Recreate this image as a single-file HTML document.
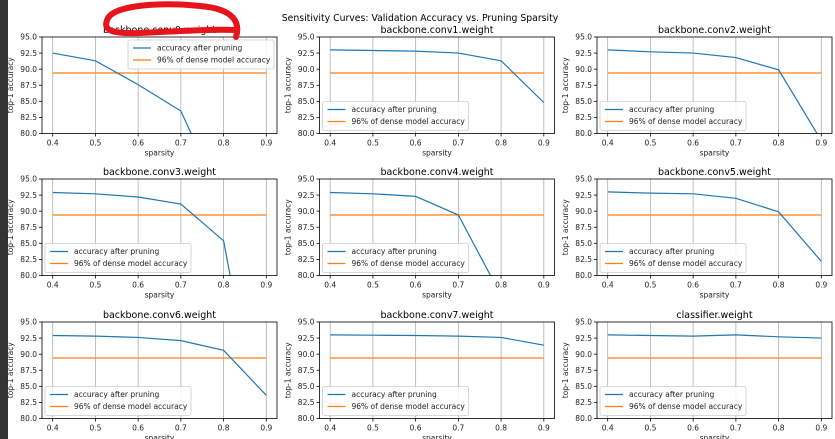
<!DOCTYPE html>
<html><head><meta charset="utf-8"><style>
html,body{margin:0;padding:0;background:#fff;width:835px;height:439px;overflow:hidden}
svg{display:block;font-family:"DejaVu Sans","Liberation Sans",sans-serif}
</style></head><body>
<svg id="chart" width="835" height="439" xmlns="http://www.w3.org/2000/svg">
<rect x="0" y="0" width="8" height="439" fill="#333"/>
<text x="420" y="21" font-size="9.3" text-anchor="middle" fill="#000">Sensitivity Curves: Validation Accuracy vs. Pruning Sparsity</text>
</svg>
<script>
const names = ["backbone.conv0.weight","backbone.conv1.weight","backbone.conv2.weight","backbone.conv3.weight","backbone.conv4.weight","backbone.conv5.weight","backbone.conv6.weight","backbone.conv7.weight","classifier.weight"];
const sparsities = [0.4,0.5,0.6,0.7,0.8,0.9];
const acc0 = [92.5,91.3,87.6,83.5,69,50];
const acc1 = [93,92.9,92.8,92.5,91.3,84.8];
const acc2 = [93,92.7,92.5,91.8,89.9,78.9];
const acc3 = [92.9,92.7,92.2,91.1,85.4,50];
const acc4 = [92.9,92.7,92.3,89.4,76.9,60];
const acc5 = [93,92.8,92.7,92,89.9,82.2];
const acc6 = [92.9,92.8,92.6,92.1,90.6,83.6];
const acc7 = [93,92.95,92.9,92.8,92.6,91.4];
const acc8 = [93,92.9,92.8,93,92.7,92.5];
const accs = [acc0,acc1,acc2,acc3,acc4,acc5,acc6,acc7,acc8];
const threshold = 89.4;
const xTicks = [0.4,0.5,0.6,0.7,0.8,0.9];
const yTicks = [80,82.5,85,87.5,90,92.5,95];
const legendUpperRight = [true,false,false,false,false,false,false,false,false];

const NS="http://www.w3.org/2000/svg";
const svg=document.getElementById('chart');
function mk(tag,attrs,parent){const e=document.createElementNS(NS,tag);for(const k in attrs)e.setAttribute(k,attrs[k]);(parent||svg).appendChild(e);return e;}
const colX=[42,319.5,597], rowY=[37,179,322], W=235, H=96.5;
names.forEach((nm,i)=>{
  const L=colX[i%3], T=rowY[Math.floor(i/3)];
  const sx=v=>L+(v-0.375)/0.55*W;
  const sy=v=>T+H-(v-80)/15*H;
  const g=mk('g',{});
  
  
  const cid='clip'+i;
  const cp=mk('clipPath',{id:cid},g);mk('rect',{x:L,y:T,width:W,height:H},cp);
  xTicks.forEach(t=>{
    const x=sx(t);
    mk('line',{x1:x,y1:T,x2:x,y2:T+H,stroke:'#b0b0b0','stroke-width':0.8},g);
    mk('line',{x1:x,y1:T+H,x2:x,y2:T+H+3,stroke:'#000','stroke-width':0.8},g);
    const tx=mk('text',{x:x,y:T+H+12,'font-size':7.5,'text-anchor':'middle',fill:'#222'},g);tx.textContent=t.toFixed(1);
    
    
  });
  yTicks.forEach(t=>{
    const y=sy(t);
    mk('line',{x1:L-3,y1:y,x2:L,y2:y,stroke:'#000','stroke-width':0.8},g);
    const tx=mk('text',{x:L-5,y:y+2.7,'font-size':7.5,'text-anchor':'end',fill:'#222'},g);tx.textContent=t.toFixed(1);
    
    
  });
  const th=mk('line',{x1:sx(0.4),x2:sx(0.9),y1:sy(threshold),y2:sy(threshold),stroke:'#ff7f0e','stroke-width':1.2},g);
  
  
  const pl=mk('polyline',{points:sparsities.map((s,j)=>sx(s)+','+sy(accs[i][j])).join(' '),fill:'none',stroke:'#1f77b4','stroke-width':1.2,'clip-path':'url(#'+cid+')'},g);
  
  
  mk('rect',{x:L,y:T,width:W,height:H,fill:'none',stroke:'#000','stroke-width':0.8},g);
  const tt=mk('text',{x:L+W/2,y:T-4,'font-size':9.5,'text-anchor':'middle',fill:'#000'},g);tt.textContent=nm;
  
  
  const xl=mk('text',{x:L+W/2,y:T+H+22,'font-size':7.5,'text-anchor':'middle',fill:'#222'},g);xl.textContent='sparsity';
  
  
  const yx=L-29, yy=T+H/2;
  const yl=mk('text',{x:yx,y:yy,'font-size':7.5,'text-anchor':'middle',fill:'#222',transform:'rotate(-90 '+yx+' '+yy+')'},g);yl.textContent='top-1 accuracy';
  
  
  const lw=146, lh=29;
  const lx=legendUpperRight[i]?L+W-lw-3:L+3, ly=legendUpperRight[i]?T+3:T+H-lh-3;
  const lg=mk('g',{},g);
  
  
  mk('rect',{x:lx,y:ly,width:lw,height:lh,fill:'#fff','fill-opacity':0.85,stroke:'#ccc','stroke-width':0.8,rx:2},lg);
  mk('line',{x1:lx+5,x2:lx+23,y1:ly+8,y2:ly+8,stroke:'#1f77b4','stroke-width':1.2},lg);
  mk('line',{x1:lx+5,x2:lx+23,y1:ly+20,y2:ly+20,stroke:'#ff7f0e','stroke-width':1.2},lg);
  const a=mk('text',{x:lx+29,y:ly+10.5,'font-size':7.5,fill:'#222'},lg);a.textContent='accuracy after pruning';
  
  
  const b=mk('text',{x:lx+29,y:ly+22.5,'font-size':7.5,fill:'#222'},lg);b.textContent='96% of dense model accuracy';
  
  
});
const ann=mk('path',{d:'M236,37 C240,24 236,9 200,6 C160,2 116,5 108,18 C102,30 110,34 140,33 C180,31 215,29 235,30',fill:'none',stroke:'#e8141b','stroke-width':6,'stroke-linecap':'round','stroke-linejoin':'round'});


</script>
</body></html>
